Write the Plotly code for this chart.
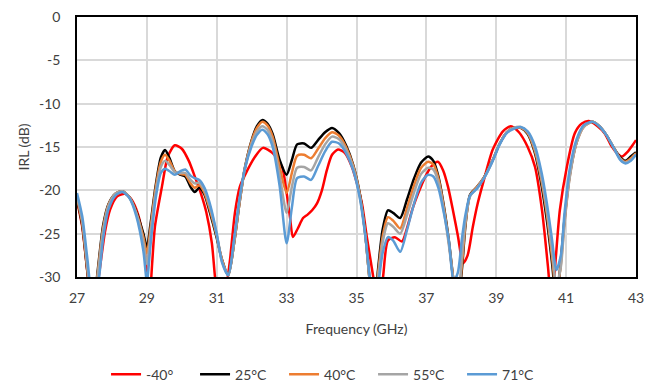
import plotly.graph_objects as go

# Common frequency grid (GHz) for 25/40/55/71 °C traces
freq = [27.0, 27.15, 27.3, 27.45, 27.6, 27.75, 27.9, 28.1, 28.3, 28.5, 28.7, 28.9, 29.0, 29.1, 29.25,
        29.4, 29.52, 29.65, 29.8, 29.95, 30.1, 30.25, 30.37, 30.5, 30.65, 30.8, 31.0, 31.15, 31.33,
        31.5, 31.65, 31.8, 32.0, 32.15, 32.3, 32.45, 32.6, 32.8, 33.0, 33.15, 33.3, 33.5, 33.7, 33.9,
        34.1, 34.3, 34.5, 34.7, 34.9, 35.1, 35.25, 35.38, 35.5, 35.62, 35.75, 35.9, 36.05, 36.25,
        36.45, 36.65, 36.85, 37.05, 37.2, 37.35, 37.5, 37.65, 37.78, 37.9, 38.02, 38.12, 38.25, 38.45,
        38.65, 38.9, 39.1, 39.3, 39.5, 39.7, 39.9, 40.1, 40.3, 40.45, 40.6, 40.72, 40.85, 40.95, 41.1,
        41.3, 41.5, 41.75, 41.95, 42.15, 42.35, 42.55, 42.7, 42.85, 43.0]

irl_25 = [-21.0, -24.0, -29.5, -34, -29.0, -24.0, -21.6, -20.4, -20.1, -20.8, -22.5, -25.0, -26.6, -24.0, -19.5,
          -16.2, -15.35, -16.3, -17.8, -18.2, -18.4, -19.6, -20.2, -19.7, -20.5, -22.5, -25.5, -28.0, -29.8,
          -26.0, -21.5, -17.5, -14.2, -12.6, -11.9, -12.3, -13.5, -16.5, -18.2, -16.5, -14.7, -14.6, -15.1, -14.2,
          -13.3, -12.8, -13.4, -14.8, -17.0, -20.5, -25.0, -30.5, -34, -29.0, -24.5, -22.3, -22.6, -23.2,
          -21.0, -18.6, -16.8, -16.1, -16.6, -18.5, -21.8, -26.0, -30.5, -33, -29.0, -24.0, -20.5, -19.6,
          -18.5, -16.5, -14.6, -13.3, -12.8, -12.8, -13.5, -15.6, -19.5, -23.5, -28.5, -33, -28.0, -23.5, -18.3,
          -14.4, -12.6, -12.1, -12.6, -13.6, -15.0, -16.2, -16.6, -16.1, -15.6]

irl_40 = [-20.9, -23.8, -29.3, -34, -29.3, -24.3, -21.7, -20.4, -20.1, -20.8, -22.6, -25.4, -27.3, -24.5, -19.8,
          -16.7, -15.9, -16.6, -17.8, -18.1, -18.2, -19.2, -19.7, -19.4, -20.3, -22.2, -25.3, -28.0, -29.8,
          -26.0, -21.5, -17.6, -14.3, -12.8, -12.1, -12.5, -13.8, -17.3, -20.3, -18.0, -16.0, -15.9, -16.3, -15.2,
          -14.0, -13.3, -13.7, -15.0, -17.1, -20.6, -25.0, -30.5, -34, -29.5, -25.3, -23.1, -23.5, -24.4,
          -22.0, -19.4, -17.4, -16.7, -17.0, -18.7, -22.0, -26.2, -30.5, -33, -28.5, -23.8, -20.6, -19.6,
          -18.5, -16.5, -14.6, -13.3, -12.8, -12.8, -13.4, -15.4, -19.0, -22.8, -27.8, -32, -28.5, -23.8, -18.5,
          -14.5, -12.7, -12.1, -12.6, -13.6, -15.0, -16.3, -16.7, -16.3, -15.7]

irl_55 = [-20.7, -23.5, -29.0, -34, -29.6, -24.6, -21.8, -20.4, -20.1, -20.8, -22.7, -26.0, -28.5, -25.2, -20.3,
          -17.3, -16.6, -17.1, -17.9, -18.0, -18.0, -18.8, -19.2, -19.1, -20.0, -21.8, -25.1, -28.2, -29.8,
          -25.8, -21.3, -17.6, -14.6, -13.2, -12.6, -13.0, -14.4, -18.3, -22.6, -19.6, -17.4, -17.3, -17.7, -16.2,
          -14.7, -13.8, -14.1, -15.3, -17.3, -20.8, -25.1, -30.5, -34, -30.0, -26.0, -23.8, -24.2, -25.0,
          -22.8, -20.2, -18.1, -17.4, -17.6, -19.1, -22.3, -26.5, -30.5, -33, -27.5, -23.5, -20.7, -19.7,
          -18.6, -16.5, -14.6, -13.3, -12.8, -12.7, -13.3, -15.1, -18.6, -22.3, -27.0, -31, -28.8, -24.0, -18.6,
          -14.5, -12.7, -12.1, -12.6, -13.6, -15.0, -16.4, -16.8, -16.5, -15.8]

irl_71 = [-20.3, -23.0, -28.0, -33, -31.0, -25.5, -22.2, -20.6, -20.2, -20.9, -23.0, -27.0, -30.5, -26.5, -21.0,
          -18.0, -17.5, -17.8, -18.2, -17.8, -17.6, -18.3, -18.6, -18.8, -19.7, -21.5, -25.0, -28.3, -29.8,
          -25.5, -21.0, -17.6, -14.9, -13.6, -13.0, -13.5, -15.0, -19.5, -26.1, -22.0, -18.6, -18.4, -18.8, -17.2,
          -15.5, -14.4, -14.6, -15.7, -17.6, -21.0, -25.2, -30.0, -34, -31.0, -27.2, -25.4, -25.8, -27.1,
          -24.5, -21.5, -19.1, -18.2, -18.4, -19.8, -22.6, -26.0, -30.5, -29.5, -25.5, -22.8, -20.6, -19.8,
          -18.6, -16.6, -14.7, -13.4, -12.9, -12.7, -13.2, -14.8, -18.0, -21.5, -25.8, -29.2, -27.5, -22.8, -17.6,
          -14.1, -12.5, -12.1, -12.6, -13.6, -15.0, -16.5, -16.9, -16.6, -15.9]

# -40 °C trace has its own frequency points
freq_m40 = [27.0, 27.15, 27.3, 27.45, 27.62, 27.8, 27.95, 28.15, 28.37, 28.55, 28.75, 28.9, 29.0, 29.07, 29.15,
            29.23, 29.43, 29.6, 29.8, 30.0, 30.2, 30.38, 30.55, 30.7, 30.86, 30.95, 31.1, 31.28, 31.38, 31.52,
            31.66, 31.8, 32.1, 32.32, 32.6, 32.87, 33.0, 33.1, 33.18, 33.32, 33.47, 33.6, 33.73, 33.87, 34.01,
            34.15, 34.3, 34.47, 34.67, 34.87, 35.02, 35.16, 35.3, 35.48, 35.62, 35.76, 35.9, 36.1, 36.3, 36.45,
            36.59, 36.78, 36.96, 37.15, 37.33, 37.48, 37.62, 37.77, 37.9, 38.05, 38.18, 38.33, 38.47, 38.62,
            38.9, 39.19, 39.42, 39.65, 39.9, 40.11, 40.31, 40.48, 40.58, 40.68, 40.82, 41.02, 41.25, 41.45,
            41.65, 41.9, 42.1, 42.3, 42.45, 42.6, 42.75, 42.9, 43.0]

irl_m40 = [-21.2, -24.2, -29.5, -34, -30, -24.8, -22.2, -20.7, -20.4, -21.0, -22.8, -25.8, -29.5, -33, -28.5,
           -24.2, -19.6, -16.1, -14.8, -15.2, -16.6, -18.5, -20.4, -22.5, -26.1, -30, -35, -31, -28, -22.6,
           -19.6, -18.3, -16.1, -15.1, -15.7, -17.3, -20.3, -23.2, -25.4, -24.4, -23.2, -22.8, -22.3, -21.5, -20.0,
           -17.7, -15.9, -15.3, -15.7, -17.3, -19.3, -21.6, -25.5, -30, -34, -30, -25.8, -25.4, -25.9, -24.3,
           -22.3, -20.2, -18.5, -17.2, -16.7, -17.7, -19.6, -22.5, -25.2, -28.4, -27.5, -24.2, -21.5, -19.2,
           -15.3, -13.2, -12.6, -13.3, -15.0, -17.3, -22.3, -28.8, -33, -29, -22.3, -17.3, -13.4, -12.3,
           -12.0, -12.6, -13.4, -14.9, -15.7, -16.1, -15.6, -14.8, -14.2]

x_ticks = [27, 29, 31, 33, 35, 37, 39, 41, 43]
y_ticks = [0, -5, -10, -15, -20, -25, -30]

series = [
    ("-40°", freq_m40, irl_m40, "#FF0000"),
    ("25°C", freq, irl_25, "#000000"),
    ("40°C", freq, irl_40, "#ED7D31"),
    ("55°C", freq, irl_55, "#A5A5A5"),
    ("71°C", freq, irl_71, "#5B9BD5"),
]

FONT = "Lato, 'Open Sans', sans-serif"
fig = go.Figure()
for name, xs, ys, col in series:
    fig.add_trace(go.Scatter(x=xs, y=ys, name=name, mode="lines",
                             line=dict(color=col, width=2.5, shape="spline", smoothing=0.7)))

fig.update_layout(
    width=659, height=383,
    margin=dict(l=77, r=23, t=17, b=106, autoexpand=False),
    plot_bgcolor="white", paper_bgcolor="white",
    font=dict(family=FONT, size=14, color="#404040"),
    showlegend=True,
    legend=dict(orientation="h", x=0.45, xanchor="center", y=-0.376, yanchor="middle",
                font=dict(size=14, color="#404040"), itemwidth=30, tracegroupgap=0,
                entrywidth=44, entrywidthmode="pixels"),
)
fig.update_xaxes(range=[27, 43], tickvals=x_ticks, ticktext=[str(v) for v in x_ticks],
                 showgrid=True, gridcolor="#D9D9D9", gridwidth=1.5,
                 showline=True, linecolor="#000000", linewidth=1.5, mirror=True,
                 ticks="outside", ticklen=7, tickcolor="rgba(0,0,0,0)",
                 zeroline=False, automargin=False,
                 title=dict(text="Frequency (GHz)", standoff=20, font=dict(size=14, color="#404040")))
fig.update_yaxes(range=[-30, 0], tickvals=y_ticks, ticktext=[str(v) for v in y_ticks],
                 showgrid=True, gridcolor="#D9D9D9", gridwidth=1.5,
                 showline=True, linecolor="#000000", linewidth=1.5, mirror=True,
                 ticks="outside", ticklen=12, tickcolor="rgba(0,0,0,0)",
                 zeroline=False, automargin=False,
                 title=dict(text="IRL (dB)", standoff=6, font=dict(size=14, color="#404040")))

fig.write_html("out.html", config={"displayModeBar": False},
               post_script="document.body.style.margin='0';document.body.style.overflow='hidden';")
